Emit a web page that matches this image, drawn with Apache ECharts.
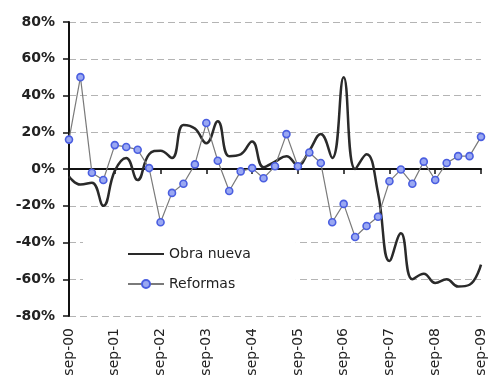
<!DOCTYPE html>
<html>
<head>
<meta charset="utf-8">
<script src="https://cdn.jsdelivr.net/npm/echarts@6/dist/echarts.min.js"></script>
<style>
html,body{margin:0;padding:0;background:#fff;}
#c{width:488px;height:381px;}
</style>
</head>
<body>
<div id="c"></div>
<script>
var quarters = ["sep-00","dic-00","mar-01","jun-01","sep-01","dic-01","mar-02","jun-02","sep-02","dic-02","mar-03","jun-03","sep-03","dic-03","mar-04","jun-04","sep-04","dic-04","mar-05","jun-05","sep-05","dic-05","mar-06","jun-06","sep-06","dic-06","mar-07","jun-07","sep-07","dic-07","mar-08","jun-08","sep-08","dic-08","mar-09","jun-09","sep-09"];
var obraNueva = [-4, -8.5, -7.5, -20, -1, 6, -6, 8, 10, 6, 24, 22, 14, 26, 7, 8, 15, 1, 4, 7, 2, 10, 19, 6, 50, 0, 8, -13, -50, -35, -60, -57, -62, -60, -64, -63, -52];
var reformas = [16, 50, -2, -6, 13, 12, 10.5, 0.5, -29, -13, -8, 2.5, 25, 4.5, -12, -1.3, 0.5, -5, 1.5, 19, 1.5, 9, 3.3, -29, -19, -37, -31, -26, -6.7, -0.3, -8, 4, -6, 3.3, 7, 7, 17.5];
var yTicks = {min: -80, max: 80, step: 20};
var seriesNames = ["Obra nueva", "Reformas"];

var chart = echarts.init(document.getElementById('c'), null, {renderer: 'canvas'});
chart.setOption({
  animation: false,
  backgroundColor: '#fff',
  grid: {left: 69, right: 4, top: 22, bottom: 65},
  legend: {
    data: [
      {name: seriesNames[0], itemStyle: {opacity: 0}},
      {name: seriesNames[1]}
    ],
    orient: 'vertical',
    left: 83,
    top: 225,
    backgroundColor: '#fff',
    padding: [22, 45, 10, 44],
    itemWidth: 36,
    itemHeight: 10,
    itemGap: 16,
    textStyle: {fontFamily: 'DejaVu Sans', fontSize: 14, color: '#222'}
  },
  xAxis: [{
    type: 'category',
    data: quarters,
    boundaryGap: false,
    position: 'top',
    axisLine: {onZero: true, lineStyle: {color: '#111', width: 2}},
    axisTick: {show: true, inside: true, length: 5, interval: function(i){return i % 4 === 0;}, lineStyle: {color: '#111', width: 1.5}},
    axisLabel: {show: false},
    splitLine: {show: false}
  }, {
    type: 'category',
    data: quarters,
    boundaryGap: false,
    position: 'bottom',
    axisLine: {show: false, onZero: false},
    axisTick: {show: false},
    axisLabel: {
      interval: function(i){return i % 4 === 0;},
      rotate: 90,
      margin: 12,
      fontFamily: 'DejaVu Sans',
      fontSize: 14,
      color: '#222'
    },
    splitLine: {show: false}
  }],
  yAxis: {
    type: 'value',
    min: yTicks.min,
    max: yTicks.max,
    interval: yTicks.step,
    axisLine: {show: true, lineStyle: {color: '#111', width: 2}},
    axisTick: {show: true, length: 6, lineStyle: {color: '#111', width: 1.5}},
    axisLabel: {
      formatter: function(v){return v + '%';},
      margin: 14,
      fontFamily: 'DejaVu Sans',
      fontWeight: 'bold',
      fontSize: 14,
      color: '#222'
    },
    splitLine: {show: true, lineStyle: {color: '#b4b4b4', type: [7, 4], width: 1}}
  },
  series: [{
    name: seriesNames[0],
    type: 'line',
    xAxisIndex: 0,
    data: obraNueva,
    smooth: 0.45,
    symbol: 'none',
    lineStyle: {color: '#2a2a2a', width: 2.5},
    itemStyle: {color: '#2a2a2a'},
    z: 3
  }, {
    name: seriesNames[1],
    type: 'line',
    xAxisIndex: 0,
    data: reformas,
    smooth: false,
    symbol: 'circle',
    symbolSize: 7,
    lineStyle: {color: '#7a7a7a', width: 1.2},
    itemStyle: {color: '#9aa8f2', borderColor: '#4a5ee0', borderWidth: 1.6},
    z: 4
  }]
});
</script>
</body>
</html>
